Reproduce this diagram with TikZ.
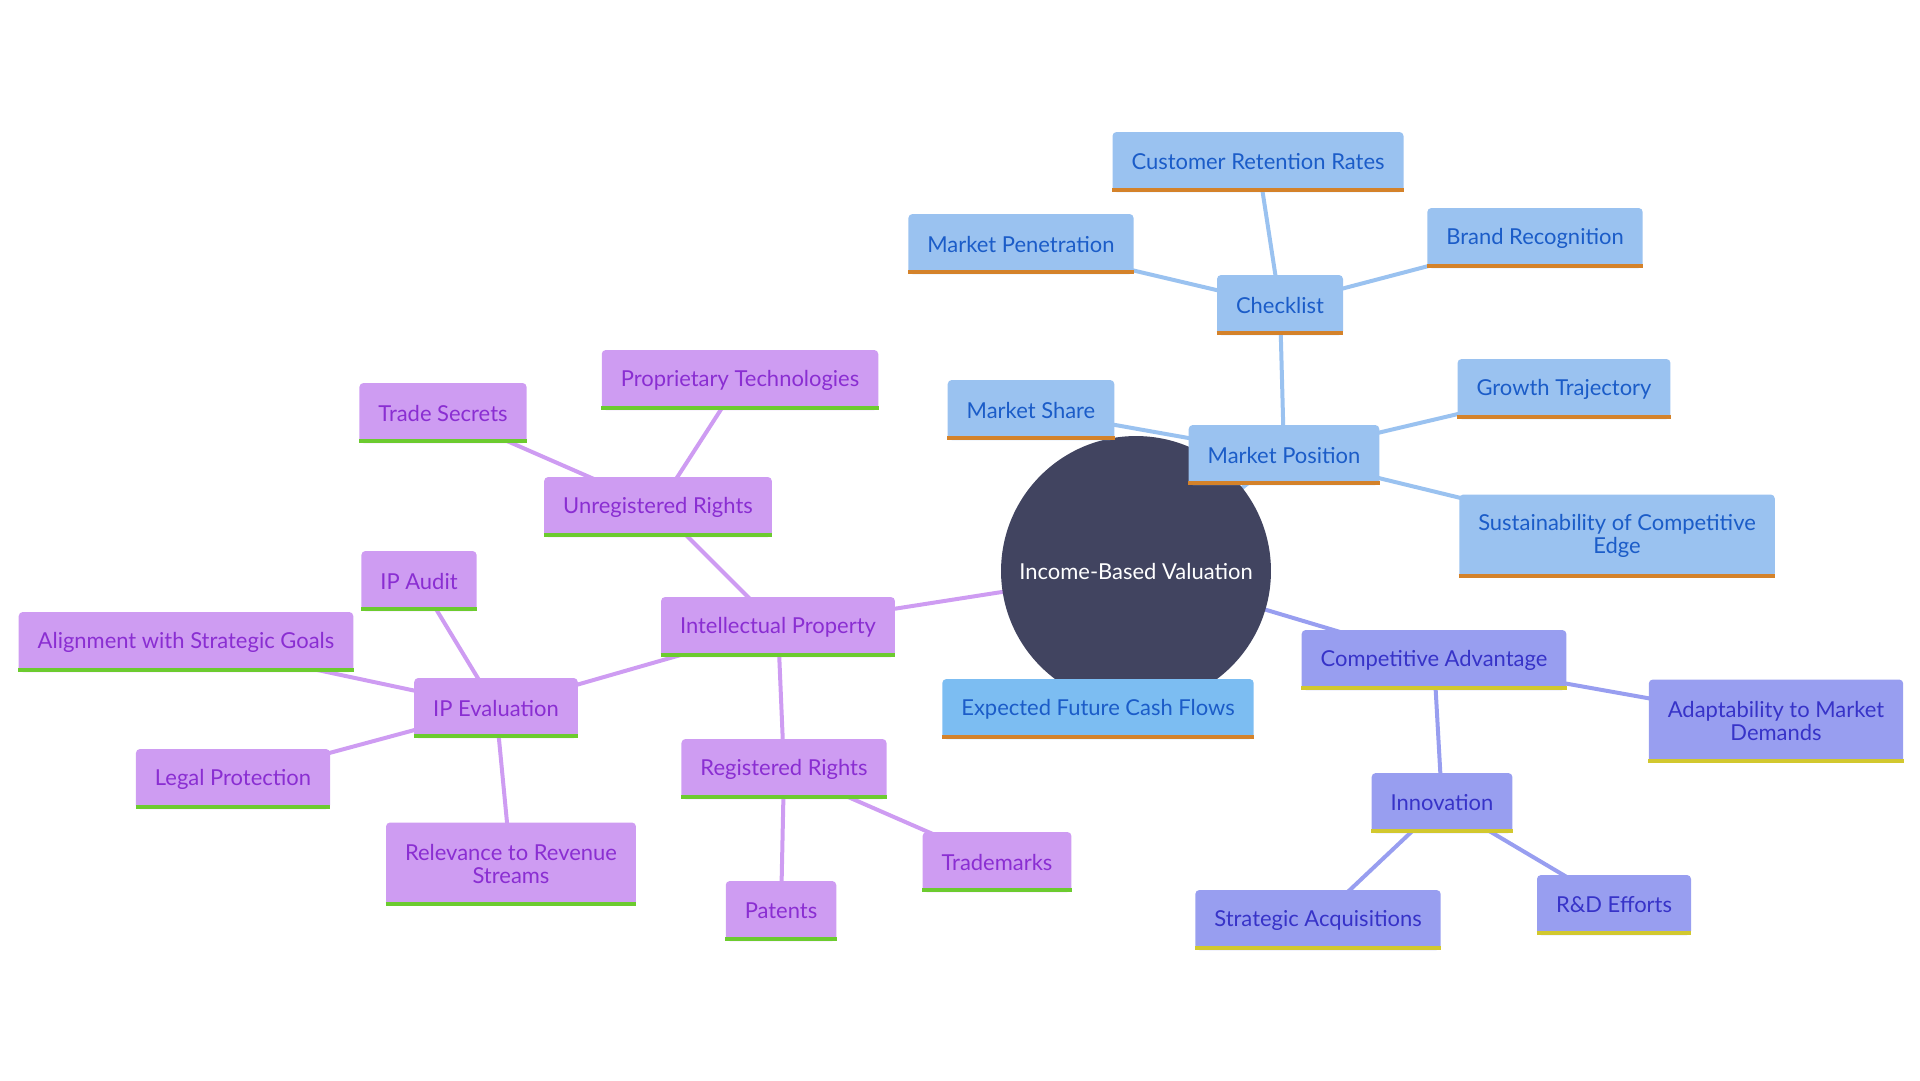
\documentclass[tikz,border=0pt]{standalone}
\usepackage{fontspec}
\setmainfont{Lato}
\usetikzlibrary{backgrounds}
\definecolor{mroot}{HTML}{414460}
\definecolor{mblue}{HTML}{9AC2F0}
\definecolor{mcash}{HTML}{7CBDF2}
\definecolor{mbluetext}{HTML}{1B5CC8}
\definecolor{morange}{HTML}{D4822A}
\definecolor{mpurple}{HTML}{CE9CF2}
\definecolor{mpurpletext}{HTML}{8A2ED2}
\definecolor{mgreen}{HTML}{6CCB2F}
\definecolor{mperi}{HTML}{989EF0}
\definecolor{mperitext}{HTML}{3733C8}
\definecolor{myellow}{HTML}{D2C82E}

\tikzset{
  leaf/.style={rectangle, rounded corners=0.08cm, minimum height=1.2cm, inner xsep=0.38cm,
    font=\fontsize{12.5}{13}\selectfont, align=center},
  bluebox/.style={leaf, fill=mblue, text=mbluetext},
  cashbox/.style={leaf, fill=mcash, text=mbluetext},
  purplebox/.style={leaf, fill=mpurple, text=mpurpletext},
  peribox/.style={leaf, fill=mperi, text=mperitext},
  link/.style={line width=0.08cm},
  bar/.style={line width=0.08cm}
}

\begin{document}
\begin{tikzpicture}[x=0.02cm, y=-0.02cm]
    \useasboundingbox (0, 0) rectangle (1920, 1080);

    \node [circle, fill=mroot, text=white, minimum size=5.4cm, font=\fontsize{12.5}{15}\selectfont] (root) at (1136, 571) {Income-Based Valuation};

    % market position
    \node [bluebox] (retention) at (1258, 162) {Customer Retention Rates};
    \node [bluebox] (penetration) at (1021, 244) {Market Penetration};
    \node [bluebox] (brand) at (1535, 238) {Brand Recognition};
    \node [bluebox] (checklist) at (1280, 305) {Checklist};
    \node [bluebox] (share) at (1031, 410) {Market Share};
    \node [bluebox] (mpos) at (1284, 455) {Market Position};
    \node [bluebox] (growth) at (1564, 389) {Growth Trajectory};
    \node [bluebox, minimum height=1.66cm] (sustain) at (1617, 536) {Sustainability of Competitive\\Edge};
    \node [cashbox] (cash) at (1098, 709) {Expected Future Cash Flows};

    % competitive advantage
    \node [peribox] (compadv) at (1434, 660) {Competitive Advantage};
    \node [peribox, minimum height=1.66cm] (adapt) at (1776, 721) {Adaptability to Market\\Demands};
    \node [peribox] (innov) at (1442, 803) {Innovation};
    \node [peribox] (acq) at (1318, 920) {Strategic Acquisitions};
    \node [peribox] (rnd) at (1614, 905) {R\&D Efforts};

    % intellectual property
    \node [purplebox] (ip) at (778, 627) {Intellectual Property};
    \node [purplebox] (unreg) at (658, 507) {Unregistered Rights};
    \node [purplebox] (secrets) at (443, 413) {Trade Secrets};
    \node [purplebox] (proptech) at (740, 380) {Proprietary Technologies};
    \node [purplebox] (ipeval) at (496, 708) {IP Evaluation};
    \node [purplebox] (audit) at (419, 581) {IP Audit};
    \node [purplebox] (align) at (186, 642) {Alignment with Strategic Goals};
    \node [purplebox] (legal) at (233, 779) {Legal Protection};
    \node [purplebox, minimum height=1.66cm] (revenue) at (511, 864) {Relevance to Revenue\\Streams};
    \node [purplebox] (reg) at (784, 769) {Registered Rights};
    \node [purplebox] (trademarks) at (997, 862) {Trademarks};
    \node [purplebox] (patents) at (781, 911) {Patents};

    \foreach \n in {retention, penetration, brand, checklist, share, mpos, growth, sustain, cash}
      \draw [bar, morange] ([yshift=0.04cm]\n.south west) -- ([yshift=0.04cm]\n.south east);
    \foreach \n in {compadv, adapt, innov, acq, rnd}
      \draw [bar, myellow] ([yshift=0.04cm]\n.south west) -- ([yshift=0.04cm]\n.south east);
    \foreach \n in {ip, unreg, secrets, proptech, ipeval, audit, align, legal, revenue, reg, trademarks, patents}
      \draw [bar, mgreen] ([yshift=0.04cm]\n.south west) -- ([yshift=0.04cm]\n.south east);

    \begin{scope}[on background layer]
      \foreach \a/\b in {root/mpos, root/cash, mpos/checklist, mpos/share, mpos/growth, mpos/sustain,
          checklist/retention, checklist/penetration, checklist/brand}
        \draw [link, mblue] (\a.center) -- (\b.center);
      \foreach \a/\b in {root/compadv, compadv/adapt, compadv/innov, innov/acq, innov/rnd}
        \draw [link, mperi] (\a.center) -- (\b.center);
      \foreach \a/\b in {root/ip, ip/unreg, ip/ipeval, ip/reg, unreg/secrets, unreg/proptech,
          ipeval/audit, ipeval/align, ipeval/legal, ipeval/revenue, reg/trademarks, reg/patents}
        \draw [link, mpurple] (\a.center) -- (\b.center);
    \end{scope}
  \end{tikzpicture}
\end{document}
